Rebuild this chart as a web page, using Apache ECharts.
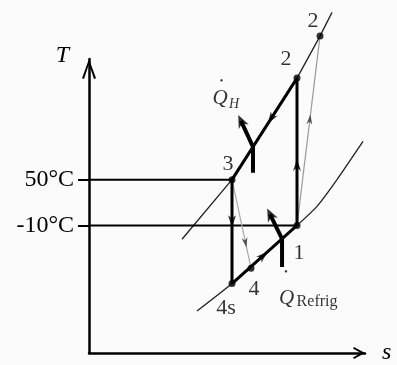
<!DOCTYPE html>
<html>
<head>
<meta charset="utf-8">
<script src="https://cdn.jsdelivr.net/npm/echarts@6/dist/echarts.min.js"></script>
<style>
html,body{margin:0;padding:0;background:#fbfbfb;}
#c{width:397px;height:365px;}
</style>
</head>
<body>
<div id="c"></div>
<script>
// ---- data (schematic T–s diagram of a refrigeration cycle) ----
// state points: entropy s (arbitrary units) and temperature T (°C)
const stateNames = ['1', '2', '2', '3', '4', '4s'];
const stateS = [2.08, 2.08, 2.31, 1.43, 1.62, 1.43];
const stateT = [-10, 183, 238, 50, -66, -86];
// high-pressure constant-pressure line (thin)
const highLineS = [0.93, 1.43, 2.08, 2.31, 2.43];
const highLineT = [-28, 50, 183, 238, 269];
// low-pressure constant-pressure line (thin)
const lowLineS = [1.08, 1.43, 2.08, 2.28, 2.48, 2.74];
const lowLineT = [-122, -86, -10, 15, 50, 100];
// temperature tick labels
const tickValues = [50, -10];
const tickLabels = ['50°C', '-10°C'];
// heat-flow labels
const qLabels = ['Q', 'H', 'Q', 'Refrig'];

// ---- helpers ----
const zip = (a, b) => a.map((v, i) => [v, b[i]]);
const P = i => [stateS[i], stateT[i]];
const lerp = (a, b, f) => [a[0] + (b[0] - a[0]) * f, a[1] + (b[1] - a[1]) * f];
const serif = '"Liberation Serif", "Times New Roman", serif';
const chevY = 'path://M7,0 L14,19.3 L12,20 L7,5 L2,20 L0,19.3 Z';
const chevX = 'path://M6,0 L12,11 L10.4,12 L6,4.2 L1.6,12 L0,11 Z';
const arrowPath = 'path://M5,0 L10,14 L5,10 L0,14 Z';

// Q arrows geometry (derived from the cycle lines)
const qhJ = lerp(P(1), P(3), 0.677);
const qhStem = [qhJ[0], qhJ[1] - 34];
const qhTip = [qhJ[0] - 0.12, qhJ[1] + 34];
const qrJ = lerp(P(5), P(0), 0.77);
const qrStem = [qrJ[0], qrJ[1] - 37];
const qrTip = [qrJ[0] - 0.12, qrJ[1] + 32];

const chart = echarts.init(document.getElementById('c'), null, {renderer: 'canvas'});

function lineSeries(data, color, width, z, smooth) {
  return {type: 'line', data: data, symbol: 'none', clip: false, silent: true, z: z || 2,
    smooth: smooth || false,
    lineStyle: {color: color, width: width}, animation: false};
}

const labelOffsets = [[2, 28], [-11, -19], [-7, -15], [-4, -15], [3, 21], [-6, 25]];

const baseSeries = [
  lineSeries(zip(highLineS, highLineT), '#222', 1.3, 1),
  lineSeries(zip(lowLineS, lowLineT), '#222', 1.3, 1, 0.2),
  lineSeries([[0, tickValues[0]], P(3)], '#000', 2, 2),
  lineSeries([[0, tickValues[1]], P(0)], '#000', 2, 2),
  lineSeries([P(1), P(3), P(5), P(0), P(1)], '#000', 3, 3),
  lineSeries([P(0), P(2)], '#999', 1.2, 2),
  lineSeries([P(3), P(4)], '#aaa', 1.2, 2),
  lineSeries([qhStem, qhJ, qhTip], '#000', 4, 4),
  lineSeries([qrStem, qrJ, qrTip], '#000', 4, 4),
  {
    type: 'scatter', z: 6, clip: false, silent: true, animation: false,
    symbol: 'circle', symbolSize: 7, itemStyle: {color: '#000'},
    data: stateNames.map((n, i) => ({
      value: P(i),
      label: {show: true, formatter: n, offset: labelOffsets[i], position: 'inside',
        color: '#000', fontSize: 22, fontFamily: serif}
    }))
  },
  {
    type: 'scatter', z: 7, clip: false, silent: true, animation: false,
    symbolSize: 0,
    data: [
      {value: qhTip, label: {formatter: qLabels[0], offset: [-21, -22], fontStyle: 'italic', fontSize: 21}},
      {value: qhTip, label: {formatter: qLabels[1], offset: [-7, -17], fontStyle: 'italic', fontSize: 14}},
      {value: qhTip, label: {formatter: '•', offset: [-19.5, -40], fontSize: 10}},
      {value: qrStem, label: {formatter: qLabels[2], offset: [4.5, 31], fontStyle: 'italic', fontSize: 21}},
      {value: qrStem, label: {formatter: qLabels[3], offset: [35, 35], fontSize: 16}},
      {value: qrStem, label: {formatter: '•', offset: [4, 5], fontSize: 10}}
    ].map(d => ({value: d.value, label: Object.assign({show: true, position: 'inside', color: '#000', fontFamily: serif}, d.label)}))
  }
];

const option = {
  backgroundColor: '#fbfbfb',
  animation: false,
  grid: {left: 89, right: 32, top: 59, bottom: 11},
  xAxis: {
    type: 'value', min: 0, max: 2.76,
    name: 's', nameLocation: 'end', nameGap: 17,
    nameTextStyle: {fontFamily: serif, fontStyle: 'italic', fontSize: 24, color: '#000', verticalAlign: 'middle'},
    axisLine: {show: true, onZero: false, lineStyle: {color: '#000', width: 2.5},
      symbol: ['none', chevX], symbolSize: [12, 12], symbolOffset: [0, -6]},
    axisTick: {show: false}, axisLabel: {show: false}, splitLine: {show: false}
  },
  yAxis: {
    type: 'value', min: -177, max: 208,
    name: 'T', nameLocation: 'end', nameGap: 3,
    nameTextStyle: {fontFamily: serif, fontStyle: 'italic', fontSize: 24, color: '#000',
      align: 'right', verticalAlign: 'middle', padding: [0, 20, 0, 0]},
    axisLine: {show: true, onZero: false, lineStyle: {color: '#000', width: 2.5},
      symbol: ['none', chevY], symbolSize: [14, 20], symbolOffset: [0, -10]},
    axisTick: {show: true, customValues: tickValues, length: 11, lineStyle: {color: '#000', width: 2}},
    axisLabel: {show: true, customValues: tickValues, margin: 15,
      formatter: v => tickLabels[tickValues.indexOf(v)],
      fontFamily: serif, fontSize: 24, color: '#000', padding: [8, 0, 0, 0]},
    splitLine: {show: false}
  },
  series: baseSeries
};
chart.setOption(option);

// direction arrows along the cycle, rotated in pixel space
const arrowSegs = [[1, 3, 0.40, 0], [3, 5, 0.40, 0], [5, 0, 0.48, 0], [0, 1, 0.41, 0], [0, 2, 0.56, 1], [3, 4, 0.71, 1]];
function rotFor(a, b) {
  const pa = chart.convertToPixel({gridIndex: 0}, a);
  const pb = chart.convertToPixel({gridIndex: 0}, b);
  return Math.atan2(-(pb[1] - pa[1]), pb[0] - pa[0]) * 180 / Math.PI - 90;
}
const arrowData = arrowSegs.map(s => ({
  value: lerp(P(s[0]), P(s[1]), s[2]),
  symbolRotate: rotFor(P(s[0]), P(s[1])),
  symbolSize: s[3] ? [6, 10] : [8, 12],
  itemStyle: {color: s[3] ? '#333' : '#000'}
}));
arrowData.push({value: qhTip, symbolRotate: rotFor(qhJ, qhTip), symbolSize: [11, 13], itemStyle: {color: '#000'}});
arrowData.push({value: qrTip, symbolRotate: rotFor(qrJ, qrTip), symbolSize: [11, 13], itemStyle: {color: '#000'}});

chart.setOption({
  series: baseSeries.concat([{
    type: 'scatter', z: 8, clip: false, silent: true, animation: false,
    symbol: arrowPath, data: arrowData
  }])
});
</script>
</body>
</html>
